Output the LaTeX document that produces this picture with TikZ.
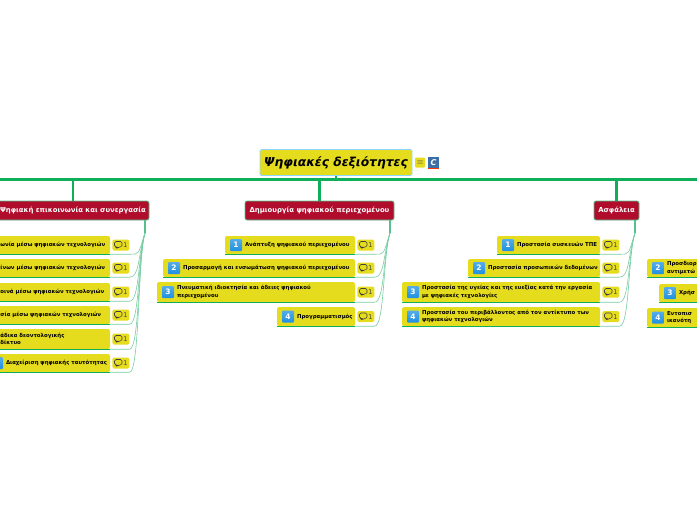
\documentclass[tikz,border=0pt]{standalone}
\usepackage{fontspec}
\setmainfont{DejaVu Sans}
\usetikzlibrary{fit, positioning}
\definecolor{leafyellow}{HTML}{E6DC1E}
\definecolor{linegreen}{HTML}{0FAF5A}
\definecolor{twiggreen}{HTML}{55C08C}
\definecolor{branchred}{HTML}{B00C2C}
\definecolor{iconblue}{HTML}{1E90E0}
\definecolor{clipblue}{HTML}{3A6EA5}
% box, number icon and label of one skill: name, left, top, right, bottom, number, text
\newcommand{\leaf}[7]{%
  \node[leafbox, fit={(#2,#3) (#4,#5)}] (#1) {};
  \draw[under] (#1.south west) -- (#1.south east);
  \node[num, right=5pt of #1.west] (#1n) {#6};
  \node[leaftext, right=20pt of #1.west] (#1t) {#7};
}
% comment marker of one skill and its line to the junction
\newcommand{\note}[2]{%
  \node[cmt, right=2pt of #1.east] (#1c) {\bubble\,1};
  \draw[twig] (#1.south east) -- (#1c.east |- #1.south) .. controls +(10,0) and +(-7,22) .. (#2);
}
\newcommand{\bubble}{\tikz[baseline=0pt]{\draw[line width=.6pt, black!75, line join=round] (0,.6pt) -- (0,6pt) -- (7.5pt,6pt) -- (7.5pt,.6pt) -- (4pt,.6pt) -- (2.4pt,-1pt) -- (2.4pt,.6pt) -- cycle;}}

\begin{document}
\begin{tikzpicture}[
    x=1pt, y=-1pt,
    rootbox/.style={rectangle, draw=blue!35!cyan!45, line width=.9pt, rounded corners=1.5pt, fill=leafyellow, minimum width=152pt, minimum height=26pt, inner sep=0pt, font=\fontsize{12.3}{14}\selectfont\bfseries\itshape},
    branch/.style={rectangle, draw=twiggreen, line width=.8pt, rounded corners=2pt, fill=branchred, text=white, minimum height=19pt, inner sep=0pt, font=\fontsize{6.9}{8}\selectfont\bfseries},
    leafbox/.style={rectangle, rounded corners=1.5pt, fill=leafyellow, inner sep=0pt},
    leaftext/.style={inner sep=0pt, align=left, font=\fontsize{5.4}{7.6}\selectfont\bfseries},
    num/.style={rectangle, rounded corners=1pt, top color=iconblue!75, bottom color=iconblue, text=white, minimum size=12pt, inner sep=0pt, font=\fontsize{7.5}{8}\selectfont\bfseries},
    cmt/.style={rectangle, rounded corners=1.5pt, fill=leafyellow, minimum width=17pt, minimum height=11pt, inner sep=0pt, text=black!75, font=\fontsize{6.5}{7}\selectfont},
    under/.style={draw=linegreen, line width=1.2pt},
    trunk/.style={draw=linegreen, line width=2.6pt},
    stem/.style={draw=twiggreen, line width=1.4pt},
    twig/.style={draw=twiggreen!80, line width=.6pt}
]
\useasboundingbox (0,0) rectangle (697,520);
\clip (0,0) rectangle (697,520);

\coordinate (west) at (-5,179.5);
\coordinate (east) at (702,179.5);
\draw[trunk] (west) -- (east);

\node[rootbox] (root) at (336,162.5) {Ψηφιακές δεξιότητες};
\node[rectangle, rounded corners=1pt, fill=leafyellow, minimum size=10pt, inner sep=0pt, right=2.5pt of root.east, font=\fontsize{8}{8}\selectfont\bfseries, text=black!70] (menu) {$\equiv$};
\node[rectangle, fill=clipblue, text=white, minimum size=11pt, inner sep=0pt, right=2.5pt of menu.east, font=\fontsize{8}{8}\selectfont\bfseries\itshape] (clip) {C};
\draw[red!55!orange, line width=.9pt] (clip.south west) -- (clip.south east);
\draw[trunk] (root.south) -- (root.south |- west);

\node[branch, minimum width=152pt] (com) at (73,210.5) {Ψηφιακή επικοινωνία και συνεργασία};
\node[branch, minimum width=149pt] (dig) at (319.5,210.5) {Δημιουργία ψηφιακού περιεχομένου};
\node[branch, minimum width=45pt] (asf) at (616.5,210.5) {Ασφάλεια};
\draw[trunk] (com.north |- west) -- (com.north);
\draw[trunk] (dig.north |- west) -- (dig.north);
\draw[trunk] (asf.north |- west) -- (asf.north);

\coordinate (jcom) at (145,233);
\coordinate (jdig) at (390,233);
\coordinate (jasf) at (635,233);
\draw[stem] (com.south -| jcom) -- (jcom);
\draw[stem] (dig.south -| jdig) -- (jdig);
\draw[stem] (asf.south -| jasf) -- (jasf);

% first branch
\leaf{com1}{-19.5}{236}{110}{254}{}{ωνία μέσω ψηφιακών τεχνολογιών}
\leaf{com2}{-19.5}{259}{110}{277}{}{ίνων μέσω ψηφιακών τεχνολογιών}
\leaf{com3}{-19.5}{283}{110}{301}{}{οινά μέσω ψηφιακών τεχνολογιών}
\leaf{com4}{-19.5}{306}{110}{324}{}{σία μέσω ψηφιακών τεχνολογιών}
\leaf{com5}{-19.5}{329}{110}{349}{}{άδικα δεοντολογικής\\δίκτυο}
\leaf{com6}{-14}{354}{110}{372}{}{Διαχείριση ψηφιακής ταυτότητας}
\note{com1}{jcom}
\note{com2}{jcom}
\note{com3}{jcom}
\note{com4}{jcom}
\note{com5}{jcom}
\note{com6}{jcom}

% second branch
\leaf{dig1}{225}{236}{355}{254}{1}{Ανάπτυξη ψηφιακού περιεχομένου}
\leaf{dig2}{163}{259}{355}{277}{2}{Προσαρμογή και ενσωμάτωση ψηφιακού περιεχομένου}
\leaf{dig3}{157}{282}{355}{302}{3}{Πνευματική ιδιοκτησία και άδειες ψηφιακού\\περιεχομένου}
\leaf{dig4}{277}{307}{355}{326}{4}{Προγραμματισμός}
\note{dig1}{jdig}
\note{dig2}{jdig}
\note{dig3}{jdig}
\note{dig4}{jdig}

% third branch
\leaf{asf1}{497}{236}{600}{254}{1}{Προστασία συσκευών ΤΠΕ}
\leaf{asf2}{468}{259}{600}{277}{2}{Προστασία προσωπικών δεδομένων}
\leaf{asf3}{402}{282}{600}{302}{3}{Προστασία της υγείας και της ευεξίας κατά την εργασία\\με ψηφιακές τεχνολογίες}
\leaf{asf4}{402}{307}{600}{326}{4}{Προστασία του περιβάλλοντος από τον αντίκτυπο των\\ψηφιακών τεχνολογιών}
\note{asf1}{jasf}
\note{asf2}{jasf}
\note{asf3}{jasf}
\note{asf4}{jasf}

% fourth branch, cut by the page
\leaf{res2}{647}{259}{705}{277}{2}{Προσδιορ\\αντιμετώ}
\leaf{res3}{659}{284}{705}{302}{3}{Χρήσ}
\leaf{res4}{647}{308}{705}{327}{4}{Εντοπισ\\ικανότη}
\end{tikzpicture}
\end{document}
